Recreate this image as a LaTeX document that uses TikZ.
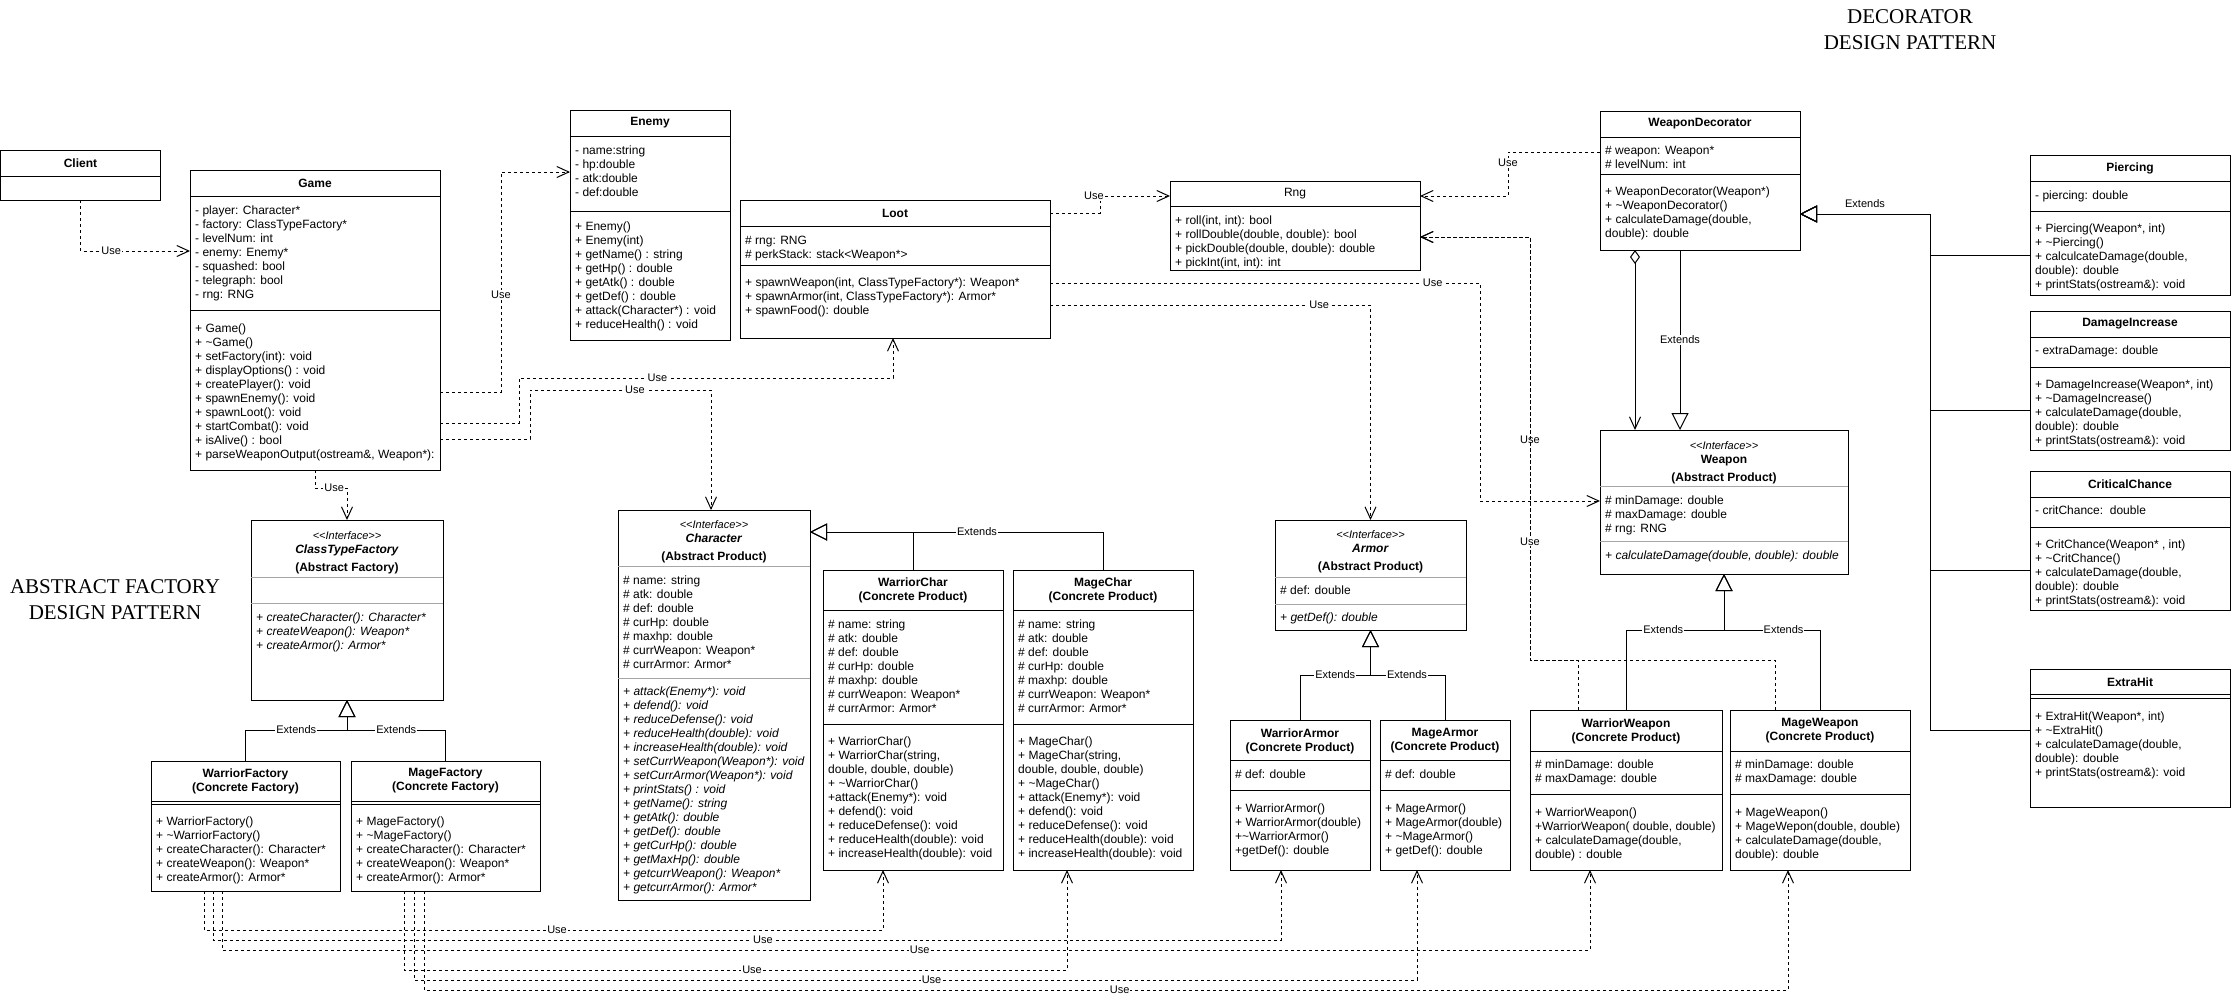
\documentclass[tikz,border=0pt]{standalone}
\usepackage{fontspec}
\setmainfont{Liberation Sans}
\newfontfamily\titlefont{Liberation Serif}
\usepackage{tikz}
\usetikzlibrary{arrows.meta, calc, positioning}

\newcommand{\fs}{\fontsize{12}{14}\selectfont}
\newcommand{\rowline}[3][sep]{\draw[#1] ([yshift=-#3pt]#2.north west) -- ([yshift=-#3pt]#2.north east);}
\newcommand{\iface}{{\mdseries\itshape\fontsize{11}{14}\selectfont <{}<Interface>{}>}}

\begin{document}
\begin{tikzpicture}[
    x=1pt, y=-1pt,
    every node/.style={font=\fs},
    box/.style={draw, line width=1pt, fill=white, inner sep=0pt, outer sep=0pt, anchor=north west},
    head/.style={font=\fs\bfseries, align=center},
    members/.style={anchor=north west, align=left, inner sep=0pt},
    sep/.style={line width=1pt},
    isep/.style={line width=1pt, black!35},
    usedep/.style={line width=1pt, dash pattern=on 3pt off 3pt, -{Straight Barb[length=12pt, width=11pt]}},
    ext/.style={line width=1pt, -{Triangle[open, length=17pt, width=17pt]}},
    lbl/.style={fill=white, inner sep=1pt, font=\fontsize{11}{13}\selectfont},
  ]
  \useasboundingbox (0,0) rectangle (2231,1005);

  % titles
  \node[font=\titlefont\fontsize{21}{26}\selectfont, align=center] (aftitle) at (115,600) {ABSTRACT FACTORY\\DESIGN PATTERN};
  \node[font=\titlefont\fontsize{21}{26}\selectfont, align=center] (dectitle) at (1910,30) {DECORATOR\\DESIGN PATTERN};

  % client and game
  \node[box, minimum width=160pt, minimum height=50pt] (client) at (0.5,150) {};
  \node[head] at ([yshift=-13pt]client.north) {Client};
  \rowline{client}{26}

  \node[box, minimum width=250pt, minimum height=300pt] (game) at (190,170) {};
  \node[head] at ([yshift=-13pt]game.north) {Game};
  \rowline{game}{26}
  \rowline{game}{140}
  \node[members] at ([xshift=5pt, yshift=-34.5pt]game.north west) {\strut- player: Character*\\- factory: ClassTypeFactory*\\- levelNum: int\\- enemy: Enemy*\\- squashed: bool\\- telegraph: bool\\- rng: RNG};
  \node[members] at ([xshift=5pt, yshift=-152.5pt]game.north west) {\strut+ Game()\\+ \textasciitilde Game()\\+ setFactory(int): void\\+ displayOptions() : void\\+ createPlayer(): void\\+ spawnEnemy(): void\\+ spawnLoot(): void\\+ startCombat(): void\\+ isAlive() : bool\\+ parseWeaponOutput(ostream\&, Weapon*):};

  % enemy, loot, rng
  \node[box, minimum width=160pt, minimum height=230pt] (enemy) at (570,110) {};
  \node[head] at ([yshift=-13pt]enemy.north) {Enemy};
  \rowline{enemy}{26}
  \rowline{enemy}{101}
  \node[members] at ([xshift=5pt, yshift=-34.5pt]enemy.north west) {\strut- name:string\\- hp:double\\- atk:double\\- def:double};
  \node[members] at ([xshift=5pt, yshift=-110.5pt]enemy.north west) {\strut+ Enemy()\\+ Enemy(int)\\+ getName() : string\\+ getHp() : double\\+ getAtk() : double\\+ getDef() : double\\+ attack(Character*) : void\\+ reduceHealth() : void};

  \node[box, minimum width=310pt, minimum height=138pt] (loot) at (740,200) {};
  \node[head] at ([yshift=-13pt]loot.north) {Loot};
  \rowline{loot}{26}
  \rowline{loot}{65}
  \node[members] at ([xshift=5pt, yshift=-34.5pt]loot.north west) {\strut\# rng: RNG\\\# perkStack: stack<Weapon*>};
  \node[members] at ([xshift=5pt, yshift=-76.5pt]loot.north west) {\strut+ spawnWeapon(int, ClassTypeFactory*): Weapon*\\+ spawnArmor(int, ClassTypeFactory*): Armor*\\+ spawnFood(): double};

  \node[box, minimum width=250pt, minimum height=89pt] (rng) at (1170,181) {};
  \node at ([yshift=-12.5pt]rng.north) {Rng};
  \rowline{rng}{25}
  \node[members] at ([xshift=5pt, yshift=-33.5pt]rng.north west) {\strut+ roll(int, int): bool\\+ rollDouble(double, double): bool\\+ pickDouble(double, double): double\\+ pickInt(int, int): int};

  % decorator side
  \node[box, minimum width=200pt, minimum height=139pt] (wdec) at (1600,111) {};
  \node[head] at ([yshift=-13pt]wdec.north) {WeaponDecorator};
  \rowline{wdec}{26}
  \rowline{wdec}{63}
  \node[members] at ([xshift=5pt, yshift=-33.5pt]wdec.north west) {\strut\# weapon: Weapon*\\\# levelNum: int};
  \node[members] at ([xshift=5pt, yshift=-74.5pt]wdec.north west) {\strut+ WeaponDecorator(Weapon*)\\+ \textasciitilde WeaponDecorator()\\+ calculateDamage(double,\\double): double};

  \node[box, minimum width=200pt, minimum height=140pt] (piercing) at (2030,155) {};
  \node[head] at ([yshift=-13pt]piercing.north) {Piercing};
  \rowline{piercing}{26}
  \rowline{piercing}{56}
  \node[members] at ([xshift=5pt, yshift=-34.5pt]piercing.north west) {\strut- piercing: double};
  \node[members] at ([xshift=5pt, yshift=-67.5pt]piercing.north west) {\strut+ Piercing(Weapon*, int)\\+ \textasciitilde Piercing()\\+ calculcateDamage(double,\\double): double\\+ printStats(ostream\&): void};

  \node[box, minimum width=200pt, minimum height=139pt] (dmginc) at (2030,311) {};
  \node[head] at ([yshift=-13pt]dmginc.north) {DamageIncrease};
  \rowline{dmginc}{26}
  \rowline{dmginc}{56}
  \node[members] at ([xshift=5pt, yshift=-33.5pt]dmginc.north west) {\strut- extraDamage: double};
  \node[members] at ([xshift=5pt, yshift=-67.5pt]dmginc.north west) {\strut+ DamageIncrease(Weapon*, int)\\+ \textasciitilde DamageIncrease()\\+ calculateDamage(double,\\double): double\\+ printStats(ostream\&): void};

  \node[box, minimum width=200pt, minimum height=139pt] (critch) at (2030,471) {};
  \node[head] at ([yshift=-13pt]critch.north) {CriticalChance};
  \rowline{critch}{26}
  \rowline{critch}{56}
  \node[members] at ([xshift=5pt, yshift=-33.5pt]critch.north west) {\strut- critChance:\ \ double};
  \node[members] at ([xshift=5pt, yshift=-67.5pt]critch.north west) {\strut+ CritChance(Weapon* , int)\\+ \textasciitilde CritChance()\\+ calculateDamage(double,\\double): double\\+ printStats(ostream\&): void};

  \node[box, minimum width=200pt, minimum height=138pt] (extrahit) at (2030,669) {};
  \node[head] at ([yshift=-13pt]extrahit.north) {ExtraHit};
  \rowline{extrahit}{25}
  \rowline{extrahit}{29}
  \node[members] at ([xshift=5pt, yshift=-41.5pt]extrahit.north west) {\strut+ ExtraHit(Weapon*, int)\\+ \textasciitilde ExtraHit()\\+ calculateDamage(double,\\double): double\\+ printStats(ostream\&): void};

  \node[box, minimum width=248pt, minimum height=144pt] (weapon) at (1600,430) {};
  \node[head, anchor=north] at ([yshift=-6.5pt]weapon.north) {\strut\iface\\Weapon\\[3.5pt](Abstract Product)};
  \rowline[isep]{weapon}{56}
  \rowline[isep]{weapon}{111}
  \node[members] at ([xshift=5pt, yshift=-64.5pt]weapon.north west) {\strut\# minDamage: double\\\# maxDamage: double\\\# rng: RNG};
  \node[members, font=\fs\itshape] at ([xshift=5pt, yshift=-119.5pt]weapon.north west) {\strut+ calculateDamage(double, double): double};

  \node[box, minimum width=192pt, minimum height=160pt] (wweapon) at (1530,710) {};
  \node[head] at ([yshift=-21pt]wweapon.north) {WarriorWeapon\\(Concrete Product)};
  \rowline{wweapon}{41}
  \rowline{wweapon}{84}
  \node[members] at ([xshift=5pt, yshift=-48.5pt]wweapon.north west) {\strut\# minDamage: double\\\# maxDamage: double};
  \node[members] at ([xshift=5pt, yshift=-96.5pt]wweapon.north west) {\strut+ WarriorWeapon()\\+WarriorWeapon( double, double)\\+ calculateDamage(double,\\double) : double};

  \node[box, minimum width=180pt, minimum height=160pt] (mweapon) at (1730,710) {};
  \node[head] at ([yshift=-21pt]mweapon.north) {MageWeapon\\(Concrete Product)};
  \rowline{mweapon}{41}
  \rowline{mweapon}{84}
  \node[members] at ([xshift=5pt, yshift=-48.5pt]mweapon.north west) {\strut\# minDamage: double\\\# maxDamage: double};
  \node[members] at ([xshift=5pt, yshift=-96.5pt]mweapon.north west) {\strut+ MageWeapon()\\+ MageWepon(double, double)\\+ calculateDamage(double,\\double): double};

  % factories
  \node[box, minimum width=192pt, minimum height=180pt] (classfac) at (251,520) {};
  \node[head, anchor=north] at ([yshift=-6.5pt]classfac.north) {\strut\iface\\\textit{ClassTypeFactory}\\[3.5pt](Abstract Factory)};
  \rowline[isep]{classfac}{57}
  \rowline[isep]{classfac}{83}
  \node[members, font=\fs\itshape] at ([xshift=5pt, yshift=-91.5pt]classfac.north west) {\strut+ createCharacter(): Character*\\+ createWeapon(): Weapon*\\+ createArmor(): Armor*};

  \node[box, minimum width=189pt, minimum height=130pt] (wfac) at (151,761) {};
  \node[head] at ([yshift=-20pt]wfac.north) {WarriorFactory\\(Concrete Factory)};
  \rowline{wfac}{40}
  \rowline{wfac}{43}
  \node[members] at ([xshift=5pt, yshift=-54.5pt]wfac.north west) {\strut+ WarriorFactory()\\+ \textasciitilde WarriorFactory()\\+ createCharacter(): Character*\\+ createWeapon(): Weapon*\\+ createArmor(): Armor*};

  \node[box, minimum width=189pt, minimum height=130pt] (mfac) at (351,761) {};
  \node[head] at ([yshift=-20pt]mfac.north) {MageFactory\\(Concrete Factory)};
  \rowline{mfac}{40}
  \rowline{mfac}{43}
  \node[members] at ([xshift=5pt, yshift=-54.5pt]mfac.north west) {\strut+ MageFactory()\\+ \textasciitilde MageFactory()\\+ createCharacter(): Character*\\+ createWeapon(): Weapon*\\+ createArmor(): Armor*};

  % characters
  \node[box, minimum width=192pt, minimum height=390pt] (character) at (618,510) {};
  \node[head, anchor=north] at ([yshift=-5.5pt]character.north) {\strut\iface\\\textit{Character}\\[3.5pt](Abstract Product)};
  \rowline[isep]{character}{56}
  \rowline[isep]{character}{168}
  \node[members] at ([xshift=5pt, yshift=-64.5pt]character.north west) {\strut\# name: string\\\# atk: double\\\# def: double\\\# curHp: double\\\# maxhp: double\\\# currWeapon: Weapon*\\\# currArmor: Armor*};
  \node[members, font=\fs\itshape] at ([xshift=5pt, yshift=-175.5pt]character.north west) {\strut+ attack(Enemy*): void\\+ defend(): void\\+ reduceDefense(): void\\+ reduceHealth(double): void\\+ increaseHealth(double): void\\+ setCurrWeapon(Weapon*): void\\+ setCurrArmor(Weapon*): void\\+ printStats() : void\\+ getName(): string\\+ getAtk(): double\\+ getDef(): double\\+ getCurHp(): double\\+ getMaxHp(): double\\+ getcurrWeapon(): Weapon*\\+ getcurrArmor(): Armor*};

  \node[box, minimum width=180pt, minimum height=300pt] (wchar) at (823,570) {};
  \node[head] at ([yshift=-20.5pt]wchar.north) {WarriorChar\\(Concrete Product)};
  \rowline{wchar}{40}
  \rowline{wchar}{154}
  \node[members] at ([xshift=5pt, yshift=-48.5pt]wchar.north west) {\strut\# name: string\\\# atk: double\\\# def: double\\\# curHp: double\\\# maxhp: double\\\# currWeapon: Weapon*\\\# currArmor: Armor*};
  \node[members] at ([xshift=5pt, yshift=-165.5pt]wchar.north west) {\strut+ WarriorChar()\\+ WarriorChar(string,\\double, double, double)\\+ \textasciitilde WarriorChar()\\+attack(Enemy*): void\\+ defend(): void\\+ reduceDefense(): void\\+ reduceHealth(double): void\\+ increaseHealth(double): void};

  \node[box, minimum width=180pt, minimum height=300pt] (mchar) at (1013,570) {};
  \node[head] at ([yshift=-20.5pt]mchar.north) {MageChar\\(Concrete Product)};
  \rowline{mchar}{40}
  \rowline{mchar}{154}
  \node[members] at ([xshift=5pt, yshift=-48.5pt]mchar.north west) {\strut\# name: string\\\# atk: double\\\# def: double\\\# curHp: double\\\# maxhp: double\\\# currWeapon: Weapon*\\\# currArmor: Armor*};
  \node[members] at ([xshift=5pt, yshift=-165.5pt]mchar.north west) {\strut+ MageChar()\\+ MageChar(string,\\double, double, double)\\+ \textasciitilde MageChar()\\+ attack(Enemy*): void\\+ defend(): void\\+ reduceDefense(): void\\+ reduceHealth(double): void\\+ increaseHealth(double): void};

  % armors
  \node[box, minimum width=191pt, minimum height=110pt] (armor) at (1275,520) {};
  \node[head, anchor=north] at ([yshift=-5.5pt]armor.north) {\strut\iface\\\textit{Armor}\\[3.5pt](Abstract Product)};
  \rowline[isep]{armor}{57}
  \rowline[isep]{armor}{84}
  \node[members] at ([xshift=5pt, yshift=-64.5pt]armor.north west) {\strut\# def: double};
  \node[members, font=\fs\itshape] at ([xshift=5pt, yshift=-91.5pt]armor.north west) {\strut+ getDef(): double};

  \node[box, minimum width=140pt, minimum height=150pt] (warmor) at (1230,720) {};
  \node[head] at ([yshift=-21pt]warmor.north) {WarriorArmor\\(Concrete Product)};
  \rowline{warmor}{40}
  \rowline{warmor}{70}
  \node[members] at ([xshift=5pt, yshift=-48.5pt]warmor.north west) {\strut\# def: double};
  \node[members] at ([xshift=5pt, yshift=-82.5pt]warmor.north west) {\strut+ WarriorArmor()\\+ WarriorArmor(double)\\+\textasciitilde WarriorArmor()\\+getDef(): double};

  \node[box, minimum width=130pt, minimum height=150pt] (marmor) at (1380,720) {};
  \node[head] at ([yshift=-21pt]marmor.north) {MageArmor\\(Concrete Product)};
  \rowline{marmor}{40}
  \rowline{marmor}{70}
  \node[members] at ([xshift=5pt, yshift=-48.5pt]marmor.north west) {\strut\# def: double};
  \node[members] at ([xshift=5pt, yshift=-82.5pt]marmor.north west) {\strut+ MageArmor()\\+ MageArmor(double)\\+ \textasciitilde MageArmor()\\+ getDef(): double};

  % extends
  \draw[ext] (wfac.north) |- node[lbl, pos=0.75]{Extends} (347,730) -- (classfac.south);
  \draw[ext] (mfac.north) |- node[lbl, pos=0.75]{Extends} (347,730) -- (classfac.south);
  \draw[ext] (wchar.north) |- ([yshift=-22pt]character.north east);
  \draw[ext] (mchar.north) |- node[lbl, pos=0.715]{Extends} ([yshift=-22pt]character.north east);
  \draw[ext] (warmor.north) |- node[lbl, pos=0.75]{Extends} (1370.5,675) -- (armor.south);
  \draw[ext] (marmor.north) |- node[lbl, pos=0.755]{Extends} (1370.5,675) -- (armor.south);
  \draw[ext] (wweapon.north) |- node[lbl, pos=0.69]{Extends} (1724,630) -- (weapon.south);
  \draw[ext] (mweapon.north) |- node[lbl, pos=0.69]{Extends} (1724,630) -- (weapon.south);
  \draw[ext] ([xshift=-20pt]wdec.south) -- node[lbl]{Extends} ([xshift=-44pt]weapon.north);
  \draw[line width=1pt, {Diamond[open, length=14pt, width=10pt]}-{Straight Barb[length=12pt, width=11pt]}]
    ([xshift=-65pt]wdec.south) -- ([xshift=-89pt]weapon.north);
  \draw[ext] ([yshift=-100pt]piercing.north west) -- (1930,255) |- node[above=3pt, pos=0.75, font=\fontsize{11}{13}\selectfont]{Extends} ([yshift=-103pt]wdec.north east);
  \draw[ext] ([yshift=-99pt]dmginc.north west) -- (1930,410) |- ([yshift=-103pt]wdec.north east);
  \draw[ext] ([yshift=-99pt]critch.north west) -- (1930,570) |- ([yshift=-103pt]wdec.north east);
  \draw[ext] ([yshift=-61pt]extrahit.north west) -- (1930,730) |- ([yshift=-103pt]wdec.north east);

  % use, top part
  \draw[usedep] (client.south) |- node[lbl, pos=0.64]{Use} ([yshift=-81pt]game.north west);
  \draw[usedep] (game.south) -- ++(0,18) -| node[lbl, pos=0.3]{Use} (classfac.north);
  \draw[usedep] ([yshift=-222pt]game.north east) -- (501,392) |- node[lbl, pos=0.22]{Use} ([yshift=-62pt]enemy.north west);
  \draw[usedep] ([yshift=-253pt]game.north east) -- (519,423) -- (519,378) -- node[lbl, pos=0.37]{Use} (893,378) -- ([xshift=-2pt]loot.south);
  \draw[usedep] ([yshift=-269pt]game.north east) -- (530,439) -- (530,390) -- node[lbl, pos=0.58]{Use} (711,390) -- ([xshift=-3pt]character.north);
  \draw[usedep] ([yshift=-13pt]loot.north east) -- (1100,213) -- node[lbl, pos=1, xshift=-6pt]{Use} (1100,196) -- ([yshift=-15pt]rng.north west);
  \draw[usedep] ([yshift=-105pt]loot.north east) -| node[lbl, pos=0.42]{Use} (armor.north);
  \draw[usedep] ([yshift=-83pt]loot.north east) -- node[lbl, pos=0.89]{Use} (1480,283) |- ([yshift=-71pt]weapon.north west);
  \draw[usedep] ([yshift=-41pt]wdec.north west) -- (1508,152) |- node[lbl, pos=0.12]{Use} ([yshift=-15pt]rng.north east);
  \draw[usedep] ([xshift=-48pt]wweapon.north) |- (1530,660) |- node[lbl, pos=0.26]{Use} ([yshift=-56pt]rng.north east);
  \draw[usedep] ([xshift=-45pt]mweapon.north) |- (1530,660) |- node[lbl, pos=0.14]{Use} ([yshift=-56pt]rng.north east);

  % use, factories to products
  \draw[usedep] ([xshift=-41.5pt]wfac.south) -- (204,930) -- node[lbl, pos=0.52]{Use} (883,930) -- ([xshift=-30pt]wchar.south);
  \draw[usedep] ([xshift=-32.5pt]wfac.south) -- (213,940) -- node[lbl, pos=0.515]{Use} (1281,940) -- ([xshift=-19pt]warmor.south);
  \draw[usedep] ([xshift=-23.5pt]wfac.south) -- (222,950) -- node[lbl, pos=0.51]{Use} (1590,950) -- ([xshift=-36pt]wweapon.south);
  \draw[usedep] ([xshift=-41.5pt]mfac.south) -- (404,970) -- node[lbl, pos=0.525]{Use} (1067,970) -- ([xshift=-36pt]mchar.south);
  \draw[usedep] ([xshift=-31.5pt]mfac.south) -- (414,980) -- node[lbl, pos=0.516]{Use} (1417,980) -- ([xshift=-28pt]marmor.south);
  \draw[usedep] ([xshift=-21.5pt]mfac.south) -- (424,990) -- node[lbl, pos=0.51]{Use} (1788,990) -- ([xshift=-32pt]mweapon.south);
\end{tikzpicture}
\end{document}
